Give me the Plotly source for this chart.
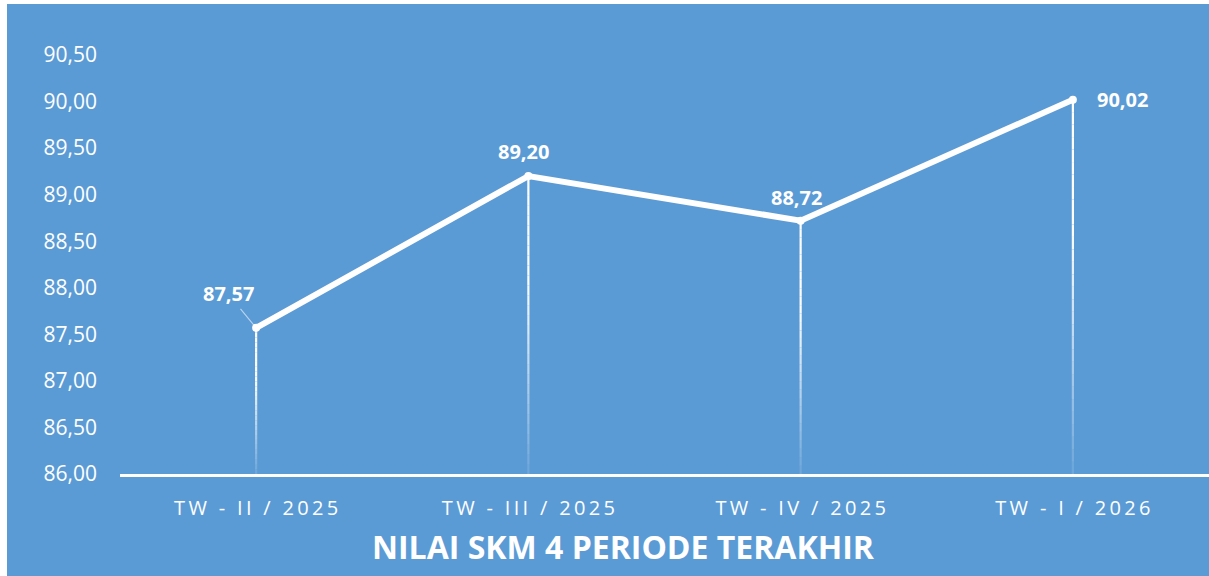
import plotly.graph_objects as go

# ---- data ----
periods = ["TW - II / 2025", "TW - III / 2025", "TW - IV / 2025", "TW - I / 2026"]
skm_values = [87.57, 89.20, 88.72, 90.02]
y_ticks = [86.0, 86.5, 87.0, 87.5, 88.0, 88.5, 89.0, 89.5, 90.0, 90.5]
chart_title = "NILAI SKM 4 PERIODE TERAKHIR"

BLUE = "#5B9BD5"
Y_MIN, Y_MAX = 86.0, 90.5
FONT = "Open Sans"


def spaced(s):
    return "\u2009".join(s)


def fmt(v):
    return f"{v:.2f}".replace(".", ",")


fig = go.Figure()

# drop lines with a fading gradient (approximated with segments)
N = 30
for k in range(N):
    t0, t1 = k / N, (k + 1) / N
    tm = (t0 + t1) / 2
    if tm < 0.35:
        alpha = 1.0
    else:
        alpha = 1.0 - 0.9 * (tm - 0.35) / 0.65
    xs, ys = [], []
    for c, v in zip(periods, skm_values):
        top = v - (v - Y_MIN) * t0
        bot = v - (v - Y_MIN) * t1
        xs += [c, c, None]
        ys += [top, bot, None]
    fig.add_trace(go.Scatter(
        x=xs, y=ys, mode="lines",
        line=dict(color=f"rgba(255,255,255,{alpha:.3f})", width=2.2),
        hoverinfo="skip", showlegend=False,
    ))

# main line
fig.add_trace(go.Scatter(
    x=periods, y=skm_values, mode="lines+markers",
    line=dict(color="white", width=6),
    marker=dict(color="white", size=8),
    showlegend=False,
))

# data labels (offsets in px relative to the point)
label_offsets = [(-28, -34), (-5, 25), (-4, 23), (50, 0)]
for i, (c, v) in enumerate(zip(periods, skm_values)):
    dx, dy = label_offsets[i]
    if i == 0:
        fig.add_annotation(
            x=c, y=v, xref="x", yref="y", text=f"<b>{fmt(v)}</b>",
            showarrow=True, ax=dx, ay=dy, arrowhead=0, arrowwidth=1.2,
            arrowcolor="rgba(255,255,255,0.55)", standoff=2,
            font=dict(family=FONT, size=20, color="white"),
        )
    else:
        fig.add_annotation(
            x=c, y=v, xref="x", yref="y", text=f"<b>{fmt(v)}</b>",
            showarrow=False, xshift=dx, yshift=dy,
            font=dict(family=FONT, size=20, color="white"),
        )

# title at the bottom
fig.add_annotation(
    x=(623 - 120) / 1089, y=(474 - 546) / 419, xref="paper", yref="paper",
    text=f"<b>{chart_title}</b>", showarrow=False,
    xanchor="center", yanchor="middle",
    font=dict(family=FONT, size=32, color="white"),
)

# white border strips (left and top)
fig.add_shape(type="rect", xref="paper", yref="paper",
              x0=(0 - 120) / 1089, x1=(7 - 120) / 1089,
              y0=(474 - 576) / 419, y1=(474 - 0) / 419,
              fillcolor="white", line=dict(width=0), layer="above")
fig.add_shape(type="rect", xref="paper", yref="paper",
              x0=(0 - 120) / 1089, x1=1.0,
              y0=(474 - 4) / 419, y1=(474 - 0) / 419,
              fillcolor="white", line=dict(width=0), layer="above")

fig.update_layout(
    width=1209, height=576,
    margin=dict(l=120, r=0, t=55, b=102),
    paper_bgcolor=BLUE, plot_bgcolor=BLUE,
    font=dict(family=FONT, color="white"),
    separators=",.",
    showlegend=False,
)
fig.update_xaxes(
    type="category", categoryorder="array", categoryarray=periods,
    range=[-0.5, 3.5],
    tickvals=periods, ticktext=[spaced(p) for p in periods],
    tickfont=dict(family=FONT, size=20, color="white"),
    showgrid=False, zeroline=False,
    showline=True, linecolor="white", linewidth=2.5,
    ticks="", ticklabelstandoff=14,
)
fig.update_yaxes(
    range=[Y_MIN, Y_MAX],
    tickvals=y_ticks, tickformat=".2f",
    tickfont=dict(family=FONT, size=21, color="white"),
    showgrid=False, zeroline=False, showline=False,
    ticks="", ticklabelstandoff=22,
)

fig.write_html(
    "out.html",
    config={"displayModeBar": False},
    post_script="document.body.style.margin='0';document.body.style.overflow='hidden';",
)
